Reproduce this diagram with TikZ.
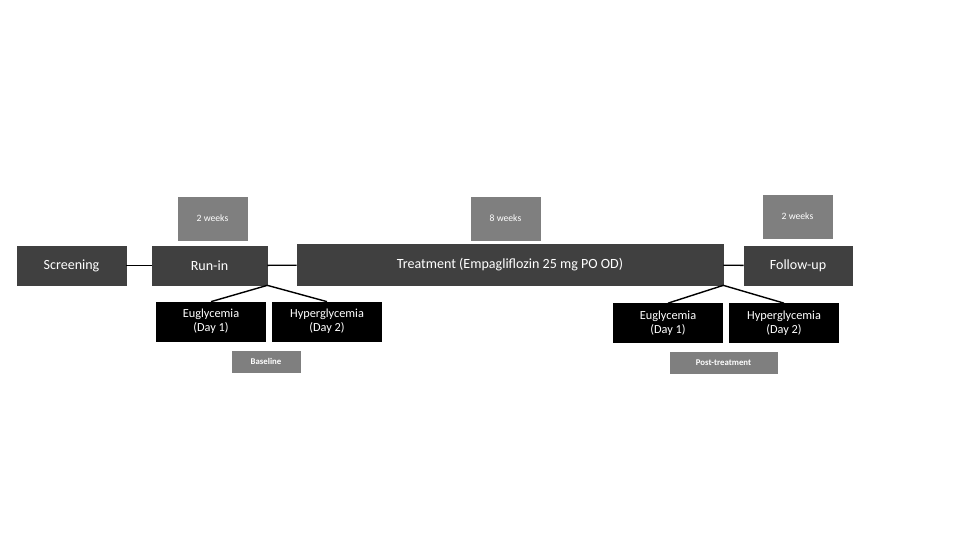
\documentclass[tikz,border=0pt]{standalone}
\usepackage{fontspec}
\setmainfont{Carlito}
\usetikzlibrary{positioning}
\definecolor{phasegray}{HTML}{404040}
\definecolor{durgray}{HTML}{7F7F7F}
\tikzset{phase/.style={draw=phasegray,fill=phasegray,text=white,font=\fontsize{8}{9}\selectfont,minimum height=0.78cm,inner sep=0pt},
	dur/.style={draw=durgray,fill=durgray,text=white,font=\fontsize{5.5}{6}\selectfont,minimum width=1.38cm,minimum height=0.86cm,inner sep=0pt},
	clamp/.style={draw=black,fill=black,text=white,font=\fontsize{7}{8}\selectfont,align=center,minimum width=2.18cm,minimum height=0.78cm,inner sep=0pt},
	tag/.style={draw=durgray,fill=durgray,text=white,font=\bfseries\fontsize{5}{6}\selectfont,minimum height=0.42cm,inner sep=0pt},
	link/.style={draw=black,line width=0.8pt}}
\begin{document}
\begin{tikzpicture}[x=0.02cm,y=-0.02cm]
	\useasboundingbox (0,0) rectangle (960,540);
	% phases
	\node[phase,minimum width=2.18cm] (screen) at (71.5,265.5) {Screening};
	\node[phase,minimum width=2.30cm] (runin) at (209.5,265.5) {Run-in};
	\node[phase,minimum width=8.52cm,minimum height=0.82cm] (treat) at (510,264.5) {Treatment (Empagliflozin 25 mg PO OD)};
	\node[phase,minimum width=2.16cm] (follow) at (798,265.5) {Follow-up};
	\draw[link] (screen) -- (runin);
	\draw[link] (runin) -- (treat);
	\draw[link] (treat) -- (follow);
	% durations
	\node[dur] (w1) at (212.5,218.5) {2 weeks};
	\node[dur] (w2) at (505.5,218.5) {8 weeks};
	\node[dur] (w3) at (797.5,216.5) {2 weeks};
	% baseline clamps
	\node[clamp] (eu1) at (211,321.5) {Euglycemia\\(Day 1)};
	\node[clamp] (hy1) at (327,321.5) {Hyperglycemia\\(Day 2)};
	\node[tag,minimum width=1.36cm] (base) at (266,361.5) {Baseline};
	\draw[link] (runin.south east) -- (eu1.north);
	\draw[link] (runin.south east) -- (hy1.north);
	% post-treatment clamps
	\node[clamp] (eu2) at (668,323) {Euglycemia\\(Day 1)};
	\node[clamp] (hy2) at (784,323) {Hyperglycemia\\(Day 2)};
	\node[tag,minimum width=2.14cm] (post) at (723.5,363) {Post-treatment};
	\draw[link] (treat.south east) -- (eu2.north);
	\draw[link] (treat.south east) -- (hy2.north);
\end{tikzpicture}
\end{document}
